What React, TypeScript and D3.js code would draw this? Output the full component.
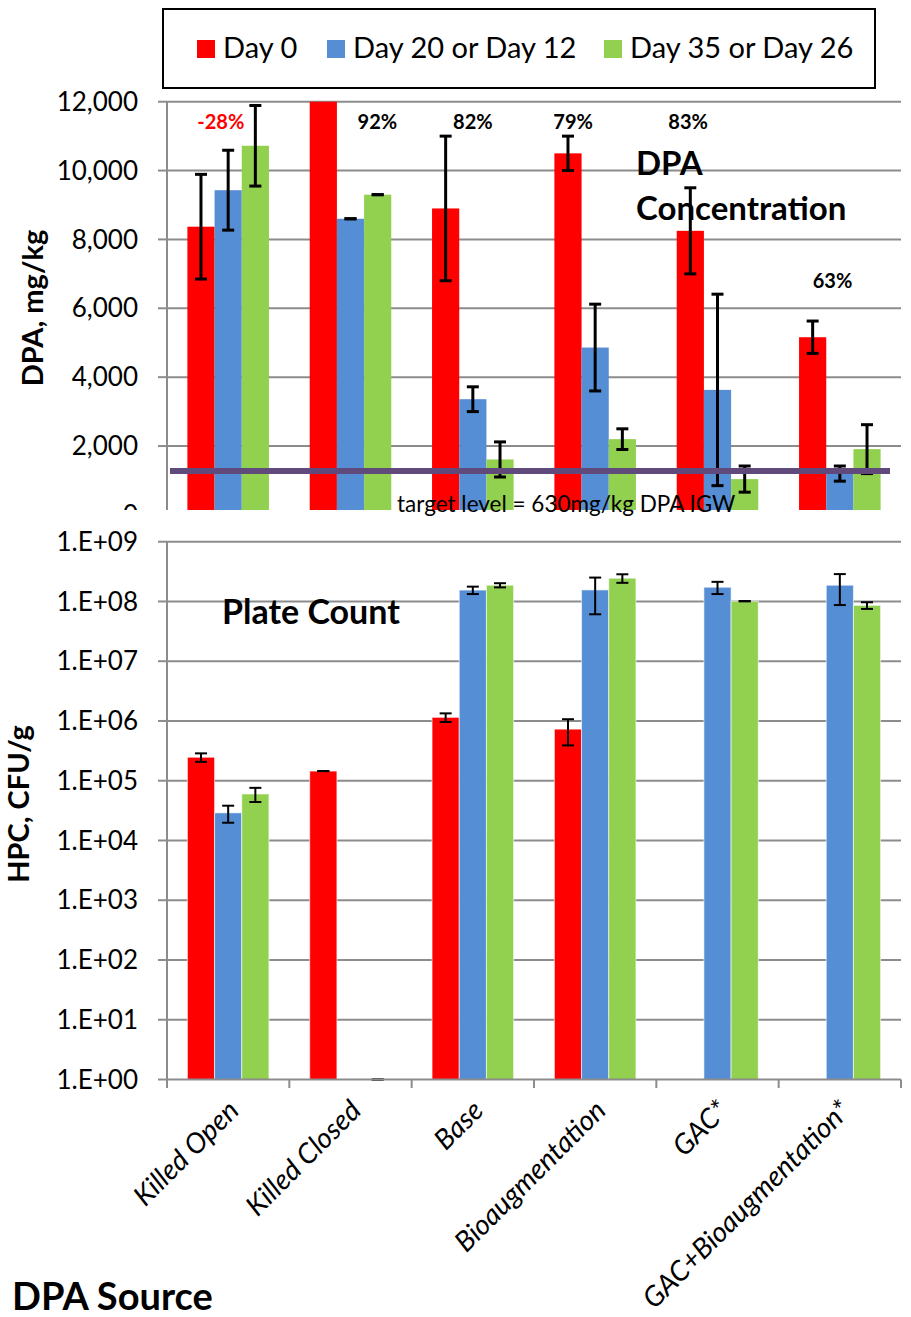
import React from 'react';
import * as d3 from 'd3';

// categories and series
const categories = ['Killed Open', 'Killed Closed', 'Base', 'Bioaugmentation', 'GAC*', 'GAC+Bioaugmentation*'];
const seriesNames = ['Day 0', 'Day 20 or Day 12', 'Day 35 or Day 26'];
const seriesColors = ['#FF0000', '#558ED5', '#92D050'];

// DPA concentration, mg/kg (null = no bar / no error bar)
const dpaDay0 = [8370, 12400, 8900, 10500, 8250, 5160];
const dpaDay0Err = [1520, null, 2100, 500, 1250, 470];
const dpaDayMid = [9430, 8600, 3360, 4860, 3630, 1200];
const dpaDayMidErr = [1160, 0, 360, 1260, 2780, 220];
const dpaDayEnd = [10720, 9300, 1610, 2200, 1040, 1910];
const dpaDayEndErr = [1170, 0, 510, 300, 380, 710];

// heterotrophic plate count, CFU/g
const hpcDay0 = [2.47e5, 1.45e5, 1.15e6, 7.3e5, null, null];
const hpcDay0Err = [4e4, 0, 1.9e5, 3.4e5, null, null];
const hpcDayMid = [2.9e4, null, 1.55e8, 1.56e8, 1.73e8, 1.87e8];
const hpcDayMidErr = [9.2e3, null, 2.2e7, 9.5e7, 4e7, 1.0e8];
const hpcDayEnd = [6.0e4, 1, 1.87e8, 2.45e8, 1.01e8, 8.6e7];
const hpcDayEndErr = [1.6e4, 0, 1.5e7, 4e7, 0, 1.1e7];

// reduction labels (band offset as fraction of step, y in mg/kg)
const pctLabels = ['-28%', '92%', '82%', '79%', '83%', '63%'];
const pctColors = ['#FF0000', '#000', '#000', '#000', '#000', '#000'];
const pctOffsets = [-0.06, 0.22, 0, -0.18, -0.24, -0.06];
const pctY = [11200, 11200, 11200, 11200, 11200, 6600];

const dpaTicks = [0, 2000, 4000, 6000, 8000, 10000, 12000];
const hpcTicks = [1e0, 1e1, 1e2, 1e3, 1e4, 1e5, 1e6, 1e7, 1e8, 1e9];
const targetLevel = 1275;

const FONT = 'Lato, sans-serif';
const GRID = '#8C8C8C';

const dpaSeries = [
  { v: dpaDay0, e: dpaDay0Err },
  { v: dpaDayMid, e: dpaDayMidErr },
  { v: dpaDayEnd, e: dpaDayEndErr },
];
const hpcSeries = [
  { v: hpcDay0, e: hpcDay0Err },
  { v: hpcDayMid, e: hpcDayMidErr },
  { v: hpcDayEnd, e: hpcDayEndErr },
];

const fmtE = (d: number) => '1.E+' + String(Math.round(Math.log10(d))).padStart(2, '0');

export default function App() {
  const x = d3.scaleBand().domain(categories).range([167, 901]).paddingInner(1 / 3).paddingOuter(1 / 6);
  const xs = d3.scaleBand().domain(seriesNames).range([0, x.bandwidth()]);
  const yTop = d3.scaleLinear().domain([0, 12000]).range([514.9, 101.7]).clamp(true);
  const yBot = d3.scaleLog().domain([1, 1e9]).range([1079.5, 541.7]).clamp(true);
  const step = x.step();

  return (
    <svg width={911} height={1317} style={{ position: 'absolute', left: 0, top: 0, background: '#fff' }}
      fontFamily={FONT}>
      <defs>
        <clipPath id="topclip"><rect x={0} y={0} width={911} height={510} /></clipPath>
      </defs>

      {/* legend */}
      <rect x={163} y={9} width={712} height={79} fill="#fff" stroke="#000" strokeWidth={2} />
      {seriesNames.map((s, i) => {
        const lx = [197, 327, 604][i];
        return (
          <g key={s}>
            <rect x={lx} y={40} width={18} height={18} fill={seriesColors[i]} />
            <text x={lx + 26} y={58} fontSize={29}>{s}</text>
          </g>
        );
      })}

      {/* DPA concentration panel */}
      <g clipPath="url(#topclip)">
        {dpaTicks.map(t => (
          <g key={t}>
            {t > 0 && <line x1={167} x2={901} y1={yTop(t)} y2={yTop(t)} stroke={GRID} strokeWidth={2} />}
            <line x1={158} x2={167} y1={yTop(t)} y2={yTop(t)} stroke={GRID} strokeWidth={2} />
            <text x={138} y={yTop(t)} dy="0.35em" textAnchor="end" fontSize={26}>{d3.format(',')(t)}</text>
          </g>
        ))}
        <line x1={167} x2={167} y1={101.7} y2={515} stroke={GRID} strokeWidth={2} />
        {dpaSeries.map((s, si) => categories.map((c, ci) => {
          const v = s.v[ci];
          if (v == null) return null;
          const bx = (x(c) as number) + (xs(seriesNames[si]) as number);
          return <rect key={si + c} x={bx} y={yTop(v)} width={xs.bandwidth()} height={yTop(0) - yTop(v)} fill={seriesColors[si]} />;
        }))}
        {dpaSeries.map((s, si) => categories.map((c, ci) => {
          const v = s.v[ci], e = s.e[ci];
          if (v == null || e == null) return null;
          const cx = (x(c) as number) + (xs(seriesNames[si]) as number) + xs.bandwidth() / 2;
          const y1 = yTop(v + e), y2 = yTop(v - e);
          return (
            <g key={'e' + si + c} stroke="#000" strokeWidth={3}>
              <line x1={cx} x2={cx} y1={y1} y2={y2} />
              <line x1={cx - 6} x2={cx + 6} y1={y1} y2={y1} />
              <line x1={cx - 6} x2={cx + 6} y1={y2} y2={y2} />
            </g>
          );
        }))}
        <line x1={170} x2={890} y1={yTop(targetLevel)} y2={yTop(targetLevel)} stroke="#604A7B" strokeWidth={6} />
      </g>
      {pctLabels.map((p, i) => (
        <text key={p} x={(x(categories[i]) as number) + x.bandwidth() / 2 + pctOffsets[i] * step}
          y={yTop(pctY[i])} textAnchor="middle" fontSize={20} fontWeight="bold" fill={pctColors[i]}>{p}</text>
      ))}
      <text x={636} y={175} fontSize={33} fontWeight="bold">DPA</text>
      <text x={636} y={220} fontSize={33} fontWeight="bold">Concentration</text>
      <text x={397} y={512} fontSize={22.5}>target level = 630mg/kg DPA IGW</text>
      <text transform="translate(43,308) rotate(-90)" textAnchor="middle" fontSize={29} fontWeight="bold">DPA, mg/kg</text>

      {/* plate count panel */}
      {hpcTicks.map(t => (
        <g key={t}>
          {t > 1 && <line x1={167} x2={901} y1={yBot(t)} y2={yBot(t)} stroke={GRID} strokeWidth={2} />}
          <line x1={158} x2={167} y1={yBot(t)} y2={yBot(t)} stroke={GRID} strokeWidth={2} />
          <text x={138} y={yBot(t)} dy="0.35em" textAnchor="end" fontSize={26}>{fmtE(t)}</text>
        </g>
      ))}
      <line x1={167} x2={167} y1={541.7} y2={1079.5} stroke={GRID} strokeWidth={2} />
      {hpcSeries.map((s, si) => categories.map((c, ci) => {
        const v = s.v[ci];
        if (v == null) return null;
        const bx = (x(c) as number) + (xs(seriesNames[si]) as number);
        return <rect key={si + c} x={bx} y={yBot(v)} width={xs.bandwidth()} height={yBot(1) - yBot(v)}
          fill={seriesColors[si]} stroke="#fff" strokeOpacity={0.6} strokeWidth={1} />;
      }))}
      {hpcSeries.map((s, si) => categories.map((c, ci) => {
        const v = s.v[ci], e = s.e[ci];
        if (v == null || e == null) return null;
        const cx = (x(c) as number) + (xs(seriesNames[si]) as number) + xs.bandwidth() / 2;
        const y1 = yBot(v + e), y2 = yBot(Math.max(1, v - e));
        return (
          <g key={'e' + si + c} stroke="#000" strokeWidth={2}>
            <line x1={cx} x2={cx} y1={y1} y2={y2} />
            <line x1={cx - 6} x2={cx + 6} y1={y1} y2={y1} />
            <line x1={cx - 6} x2={cx + 6} y1={y2} y2={y2} />
          </g>
        );
      }))}
      <line x1={167} x2={901} y1={1079.5} y2={1079.5} stroke={GRID} strokeWidth={2} />
      {d3.range(categories.length + 1).map(i => (
        <line key={i} x1={167 + i * step} x2={167 + i * step} y1={1079.5} y2={1088} stroke={GRID} strokeWidth={2} />
      ))}
      {categories.map(c => {
        const cx = (x(c) as number) + x.bandwidth() / 2;
        return (
          <text key={c} transform={`translate(${cx - 2},${1098}) rotate(-45)`} textAnchor="end" dy="0.72em"
            fontSize={28} fontStyle="italic">{c}</text>
        );
      })}
      <text x={222} y={624} fontSize={34} fontWeight="bold">Plate Count</text>
      <text transform="translate(29,804) rotate(-90)" textAnchor="middle" fontSize={29} fontWeight="bold">HPC, CFU/g</text>
      <text x={12} y={1310} fontSize={38} fontWeight="bold">DPA Source</text>
    </svg>
  );
}
